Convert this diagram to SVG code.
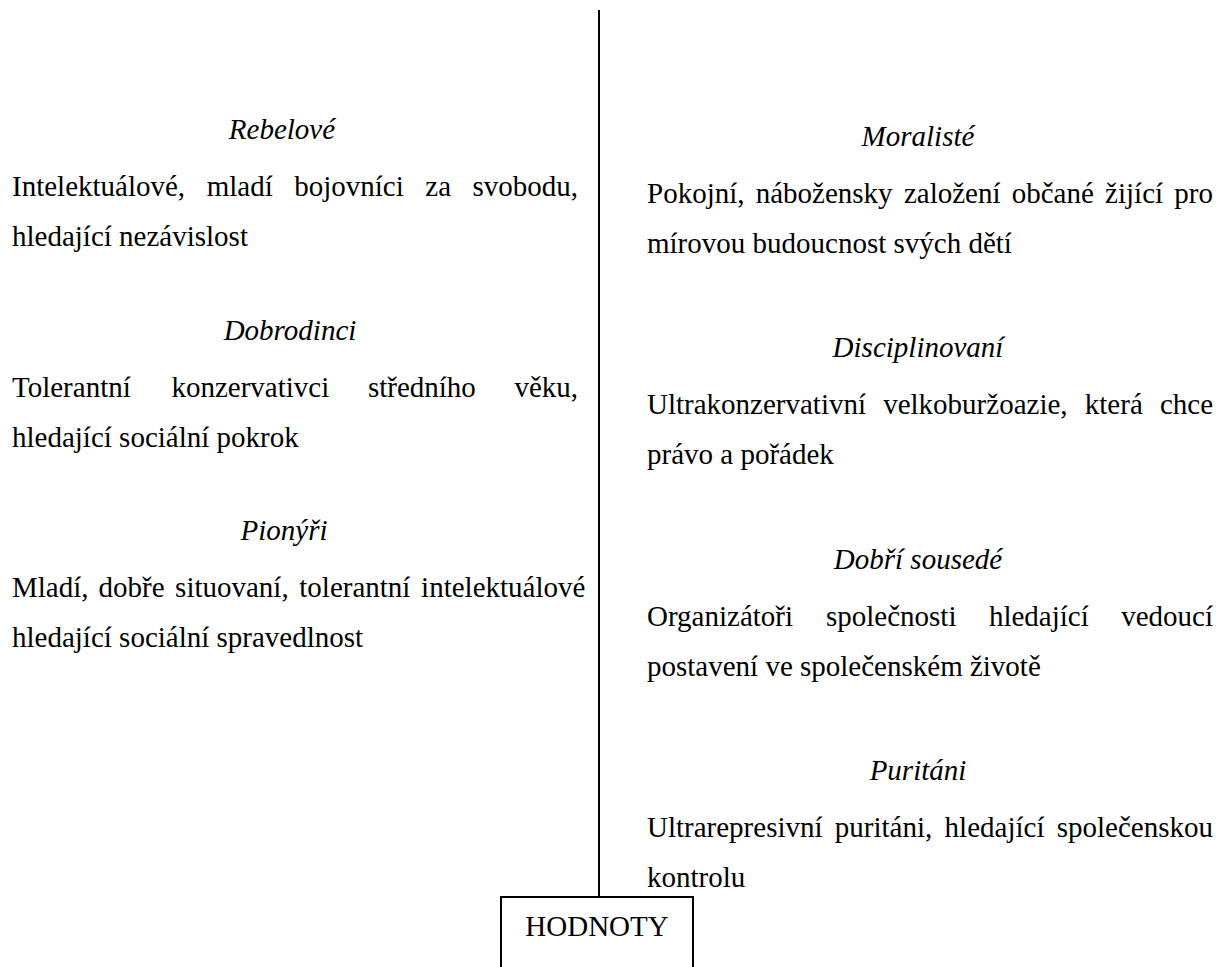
<svg xmlns="http://www.w3.org/2000/svg" width="1230" height="967" viewBox="0 0 1230 967">
  <style>
    text { font-family: "Liberation Serif", "Times New Roman", serif; font-size: 29px; fill: #000; }
    .head { font-style: italic; text-anchor: middle; }
    .rule { stroke: #000; stroke-width: 2; fill: none; }
  </style>
  <rect width="1230" height="967" fill="#fff"/>

  <!-- dividing axis -->
  <g id="connectors">
    <line class="rule" x1="599" y1="10" x2="599" y2="897"/>
  </g>

  <!-- axis label box -->
  <g id="hodnoty">
    <rect class="rule" x="501" y="897" width="192" height="80"/>
    <text x="597" y="936" text-anchor="middle">HODNOTY</text>
  </g>

  <!-- left column -->
  <g id="rebelove">
    <text class="head" x="282" y="139">Rebelové</text>
    <text y="196"><tspan x="12">Intelektuálové,</tspan><tspan x="206.7">mladí</tspan><tspan x="294.2">bojovníci</tspan><tspan x="425.3">za</tspan><tspan x="472.5">svobodu,</tspan></text>
    <text x="12" y="246">hledající nezávislost</text>
  </g>

  <g id="dobrodinci">
    <text class="head" x="290" y="339.5">Dobrodinci</text>
    <text y="396.5"><tspan x="12">Tolerantní</tspan><tspan x="171.4">konzervativci</tspan><tspan x="367.9">středního</tspan><tspan x="514.4">věku,</tspan></text>
    <text x="12" y="446.5">hledající sociální pokrok</text>
  </g>

  <g id="pionyri">
    <text class="head" x="284" y="540">Pionýři</text>
    <text y="597"><tspan x="12">Mladí,</tspan><tspan x="98.5">dobře</tspan><tspan x="175.1">situovaní,</tspan><tspan x="299.3">tolerantní</tspan><tspan x="421.1">intelektuálové</tspan></text>
    <text x="12" y="647">hledající sociální spravedlnost</text>
  </g>

  <!-- right column -->
  <g id="moraliste">
    <text class="head" x="918" y="145.5">Moralisté</text>
    <text y="202.5"><tspan x="647">Pokojní,</tspan><tspan x="755.7">nábožensky</tspan><tspan x="903.9">založení</tspan><tspan x="1011.7">občané</tspan><tspan x="1105.1">žijící</tspan><tspan x="1174.3">pro</tspan></text>
    <text x="647" y="252.5">mírovou budoucnost svých dětí</text>
  </g>

  <g id="disciplinovani">
    <text class="head" x="918" y="357">Disciplinovaní</text>
    <text y="414"><tspan x="647">Ultrakonzervativní</tspan><tspan x="883.2">velkoburžoazie,</tspan><tspan x="1084.8">která</tspan><tspan x="1159.9">chce</tspan></text>
    <text x="647" y="464">právo a pořádek</text>
  </g>

  <g id="dobri-sousede">
    <text class="head" x="918" y="568.5">Dobří sousedé</text>
    <text y="625.5"><tspan x="647">Organizátoři</tspan><tspan x="826">společnosti</tspan><tspan x="988.9">hledající</tspan><tspan x="1121.2">vedoucí</tspan></text>
    <text x="647" y="675.5">postavení ve společenském životě</text>
  </g>

  <g id="puritani">
    <text class="head" x="918" y="780">Puritáni</text>
    <text y="837"><tspan x="647">Ultrarepresivní</tspan><tspan x="834.8">puritáni,</tspan><tspan x="944.6">hledající</tspan><tspan x="1056.7">společenskou</tspan></text>
    <text x="647" y="887">kontrolu</text>
  </g>
</svg>
